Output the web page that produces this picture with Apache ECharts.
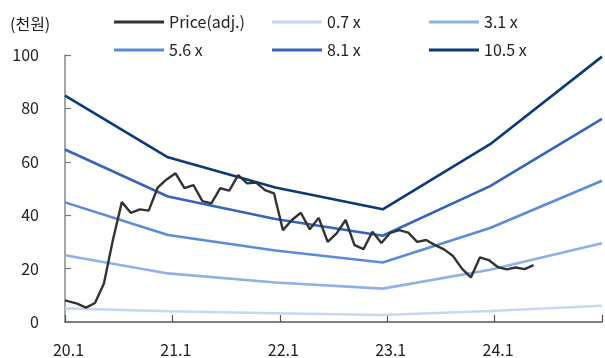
<!DOCTYPE html>
<html>
<head>
<meta charset="utf-8">
<script src="https://cdn.jsdelivr.net/npm/echarts@6/dist/echarts.min.js"></script>
<style>
  html, body { margin: 0; padding: 0; background: #fff; }
  #chart { width: 605px; height: 358px; }
</style>
</head>
<body>
<div id="chart"></div>
<script>
// Monthly adjusted share price (천원), starting 2020.1
const priceValues = [
  8.1, 6.9, 5.4, 7.1, 14.4, 30.7, 44.9, 40.9, 42.2, 41.7,
  50.3, 53.4, 55.7, 50.1, 51.3, 45.3, 44.4, 50.1, 49.2, 55.0,
  51.9, 52.2, 49.4, 48.2, 34.4, 38.2, 40.9, 34.7, 39.0, 30.0,
  33.2, 38.2, 28.8, 27.3, 33.8, 29.6, 33.4, 34.4, 33.5, 30.0,
  30.7, 28.8, 27.2, 24.7, 20.0, 16.7, 24.2, 23.2, 20.6, 19.7,
  20.4, 19.8, 21.3
];

// Band nodes: months since 2020.1
const bandMonths = [0, 11.5, 23.5, 35.5, 47.5, 60];
const band07 = [5.1, 4.0, 3.3, 2.6, 4.1, 6.1];
const band31 = [25.0, 18.2, 14.8, 12.5, 19.6, 29.5];
const band56 = [44.8, 32.6, 26.8, 22.3, 35.2, 52.9];
const band81 = [64.6, 47.0, 38.6, 32.3, 50.9, 76.1];
const band105 = [84.8, 61.7, 50.4, 42.2, 66.6, 99.4];

const xTickLabels = ['20.1', '21.1', '22.1', '23.1', '24.1', ''];
const seriesNames = ['Price(adj.)', '0.7 x', '3.1 x', '5.6 x', '8.1 x', '10.5 x'];
const seriesColors = ['#333333', '#c6d7ef', '#8fb1e3', '#5b8cd7', '#3565b6', '#0a3a78'];

const FONT = '"Noto Sans CJK KR", "Noto Sans", sans-serif';

const pricePoints = priceValues.map((v, i) => [i === 0 ? 0 : i + 0.35, v]);
const bandPoints = arr => arr.map((v, i) => [bandMonths[i], v]);
const bands = [band07, band31, band56, band81, band105];

const series = [];
bands.forEach((b, k) => {
  series.push({
    name: seriesNames[k + 1],
    type: 'line',
    data: bandPoints(b),
    showSymbol: false,
    symbol: 'none',
    lineStyle: { width: 2.6, color: seriesColors[k + 1] },
    itemStyle: { color: seriesColors[k + 1] },
    z: 2
  });
});
series.push({
  name: seriesNames[0],
  type: 'line',
  data: pricePoints,
  showSymbol: false,
  symbol: 'none',
  lineStyle: { width: 2.4, color: seriesColors[0] },
  itemStyle: { color: seriesColors[0] },
  z: 3
});

// Legend: 3 columns x 2 rows, one component per entry
const legendCols = [114, 272, 429];
const legendRows = [13, 41];
const legends = seriesNames.map((name, i) => ({
  data: [name],
  left: legendCols[i % 3],
  top: legendRows[Math.floor(i / 3)],
  padding: 0,
  icon: 'rect',
  itemWidth: 50,
  itemHeight: 3,
  itemGap: 0,
  textStyle: { fontFamily: FONT, fontSize: 16, color: '#222', lineHeight: 18, padding: [0, 0, 0, 0] },
  selectedMode: false
}));

const chart = echarts.init(document.getElementById('chart'), null, { renderer: 'canvas' });
chart.setOption({
  animation: false,
  backgroundColor: '#ffffff',
  legend: legends,
  grid: { left: 65, right: 2, top: 55, bottom: 36, containLabel: false },
  graphic: [{
    type: 'text',
    left: 10,
    top: 16,
    style: { text: '(천원)', font: '16px ' + FONT, fill: '#222' }
  }],
  xAxis: {
    type: 'value',
    min: 0,
    max: 60,
    interval: 12,
    splitLine: { show: false },
    axisLine: { lineStyle: { color: '#555', width: 1.5 } },
    axisTick: { inside: true, length: 7, lineStyle: { color: '#555', width: 1.2 } },
    axisLabel: {
      margin: 20,
      fontFamily: FONT,
      fontSize: 16,
      color: '#222',
      padding: [0, 0, 0, 7],
      formatter: v => xTickLabels[Math.round(v / 12)]
    }
  },
  yAxis: {
    type: 'value',
    min: 0,
    max: 100,
    interval: 20,
    splitLine: { show: false },
    axisLine: { show: true, lineStyle: { color: '#888', width: 1.5 } },
    axisTick: { show: true, inside: true, length: 6, lineStyle: { color: '#777', width: 1.2 } },
    axisLabel: { margin: 26, fontFamily: FONT, fontSize: 16, color: '#222' }
  },
  series: series
});
</script>
</body>
</html>
